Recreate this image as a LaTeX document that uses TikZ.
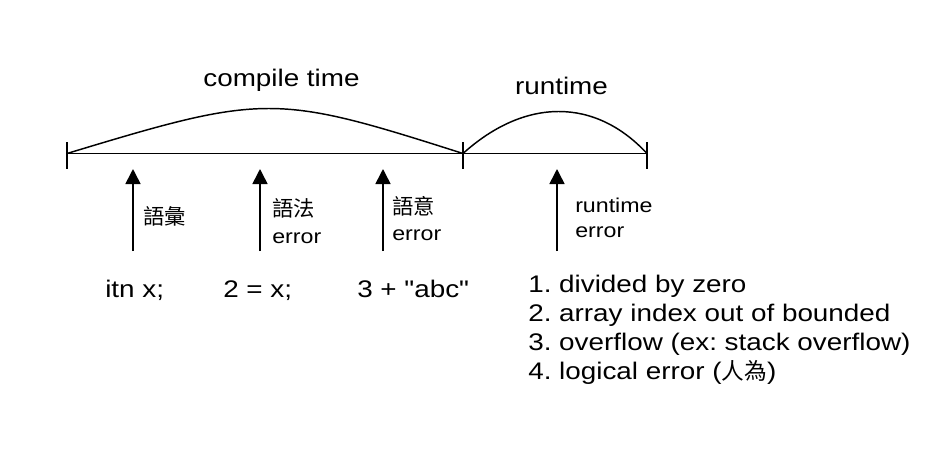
\documentclass[tikz,border=0pt]{standalone}
\usepackage{fontspec}
\setmainfont{Liberation Sans}[FakeStretch=1.16, Ligatures=TeXOff]
\newfontfamily\cjk{Noto Sans CJK TC}
\usetikzlibrary{arrows.meta}
\frenchspacing
\tikzset{
  axis/.style={line width=1.1pt, black},
  hump/.style={line width=1.1pt, black},
  uparrow/.style={line width=1.2pt, black, -{Triangle[length=11.25pt,width=11.25pt]}},
  bigtext/.style={inner sep=0pt, font=\fontsize{18pt}{21.75pt}\selectfont},
  smalltext/.style={inner sep=0pt, align=left, font=\fontsize{15pt}{19.5pt}\selectfont},
}
\begin{document}
\begin{tikzpicture}[x=0.75pt,y=-0.75pt]
\useasboundingbox (0,0) rectangle (932,458);
\fill[white] (0,0) rectangle (932,458);
% timeline
\coordinate (a0) at (67,153.5);
\coordinate (a1) at (463,153.5);
\coordinate (a2) at (647,153.5);
\draw[axis] (a0) -- (a2);
\foreach \p in {a0,a1,a2}{
  \draw[axis] ([yshift=8.6pt]\p) -- ([yshift=-11.6pt]\p);
}
% humps
\draw[hump] (a0) .. controls (265,93.5) and (275,93.5) .. (a1);
\draw[hump] (a1) .. controls (525,97.5) and (595,97.5) .. (a2);
% titles
\node[bigtext, anchor=base] (ct) at (281.5,86) {compile time};
\node[bigtext, anchor=base] (rt) at (561.5,94) {runtime};
% arrows
\coordinate (b1) at (133,251); \coordinate (t1) at (133,169);
\coordinate (b2) at (260,251); \coordinate (t2) at (260,169);
\coordinate (b3) at (383,251); \coordinate (t3) at (383,169);
\coordinate (b4) at (557,251); \coordinate (t4) at (557,169);
\draw[uparrow] (b1) -- (t1);
\draw[uparrow] (b2) -- (t2);
\draw[uparrow] (b3) -- (t3);
\draw[uparrow] (b4) -- (t4);
% arrow labels
\node[smalltext, anchor=west] (l1) at (143,216) {{\cjk\fontsize{16pt}{19.5pt}\selectfont 語彙}};
\node[smalltext, anchor=north west] (l2) at (272,198.5) {{\cjk\fontsize{16pt}{19.5pt}\selectfont 語法}\\[0.5pt]error};
\node[smalltext, anchor=north west] (l3) at (392,196) {{\cjk\fontsize{16pt}{19.5pt}\selectfont 語意}\\[0pt]error};
\node[smalltext, anchor=north west, font=\fontsize{15pt}{18.75pt}\selectfont] (l4) at (575,197.5) {runtime\\error};
% code examples
\node[bigtext, anchor=base west] (c1) at (105,297) {itn x;};
\node[bigtext, anchor=base west] (c2) at (223,297) {2 = x;};
\node[bigtext, anchor=base west] (c3) at (357,297) {3 + "abc"};
% runtime error list
\node[bigtext, anchor=north west, align=left] (list) at (528,274.5) {1. divided by zero\\2. array index out of bounded\\3. overflow (ex: stack overflow)\\4. logical error ({\cjk\fontsize{17pt}{21.75pt}\selectfont 人為})};
\end{tikzpicture}
\end{document}
